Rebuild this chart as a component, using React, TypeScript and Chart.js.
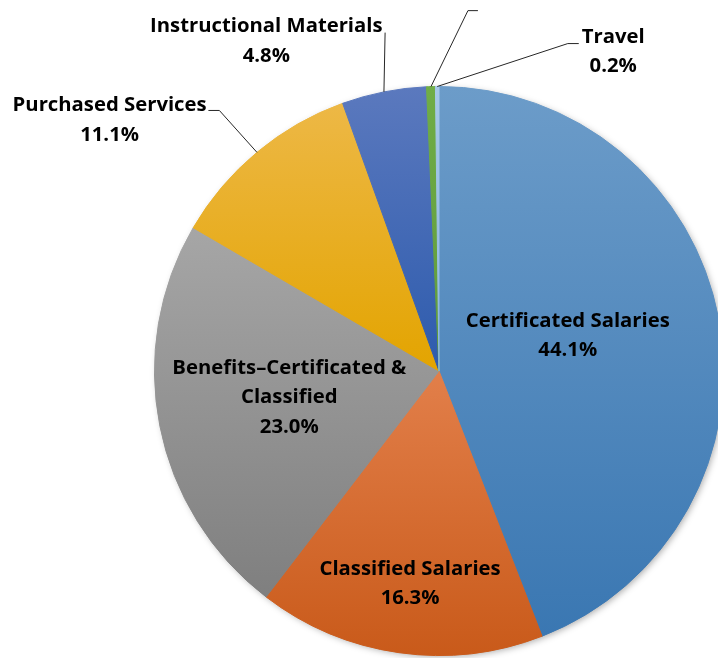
import React, { useEffect, useRef } from "react";
import { Chart, registerables } from "chart.js";

Chart.register(...registerables);

// ---- data ----
const categories = [
  "Certificated Salaries",
  "Classified Salaries",
  "Benefits–Certificated & Classified",
  "Purchased Services",
  "Instructional Materials",
  "Capital Outlay",
  "Travel",
];
const values = [44.1, 16.3, 23.0, 11.1, 4.8, 0.5, 0.2];
const valueLabels = ["44.1%", "16.3%", "23.0%", "11.1%", "4.8%", "0.5%", "0.2%"];
const labelLines = [
  ["Certificated Salaries"],
  ["Classified Salaries"],
  ["Benefits–Certificated &", "Classified"],
  ["Purchased Services"],
  ["Instructional Materials"],
  ["Capital Outlay"],
  ["Travel"],
];

// ---- styles ----
const topColors = ["#6c9cc9", "#e27f4a", "#a6a6a6", "#edb846", "#5b79be", "#70ad47", "#a6c8e8"];
const bottomColors = ["#3a77b2", "#c95a1a", "#7f7f7f", "#e3a400", "#2d5bad", "#5f9a3a", "#8db8e0"];

// label block centres as offsets from the pie centre, in units of a 285px radius
const REF_R = 285;
const labelOffsets: [number, number][] = [
  [129, -37],
  [-29, 211.5],
  [-150, 25],
  [-330, -252.5],
  [-173, -332],
  [91, -420],
  [174.5, -321.5],
];
// leader lines: [elbowDx, elbowDy, endDx] or null
const leaders: ([number, number, number] | null)[] = [
  null,
  null,
  null,
  [-220, -261, -231],
  [-54, -339, -54],
  [29, -361, 39],
  [129, -328, 140],
];

const FONT_SIZE = 20.3;
const LINE_H = 29.5;
const FONT = `bold ${FONT_SIZE}px 'Open Sans', 'Noto Sans', sans-serif`;

function arcYRange(x: number, y: number, r: number, a0: number, a1: number) {
  let ymin = y, ymax = y;
  const n = 90;
  for (let i = 0; i <= n; i++) {
    const a = a0 + ((a1 - a0) * i) / n;
    const yy = y + r * Math.sin(a);
    if (yy < ymin) ymin = yy;
    if (yy > ymax) ymax = yy;
  }
  return [ymin, ymax];
}

const shadowPlugin = {
  id: "pieShadow",
  beforeDatasetsDraw(chart: any) {
    const meta = chart.getDatasetMeta(0);
    const el = meta.data[0];
    if (!el) return;
    const { x, y, outerRadius } = el.getProps(["x", "y", "outerRadius"], true);
    const ctx = chart.ctx;
    ctx.save();
    ctx.shadowColor = "rgba(0,0,0,0.35)";
    ctx.shadowBlur = 7;
    ctx.shadowOffsetX = 2;
    ctx.shadowOffsetY = 2;
    ctx.fillStyle = "#888";
    ctx.beginPath();
    ctx.arc(x, y, outerRadius - 1, 0, Math.PI * 2);
    ctx.fill();
    ctx.restore();
  },
};

const gradientPlugin = {
  id: "sliceGradient",
  beforeDatasetsDraw(chart: any) {
    const meta = chart.getDatasetMeta(0);
    const ctx = chart.ctx;
    meta.data.forEach((el: any, i: number) => {
      const p = el.getProps(["x", "y", "startAngle", "endAngle", "outerRadius"], true);
      const [y0, y1] = arcYRange(p.x, p.y, p.outerRadius, p.startAngle, p.endAngle);
      const g = ctx.createLinearGradient(0, y0, 0, Math.max(y1, y0 + 1));
      g.addColorStop(0, topColors[i]);
      g.addColorStop(1, bottomColors[i]);
      el.options.backgroundColor = g;
      el.options.borderColor = g;
    });
  },
};

const labelPlugin = {
  id: "sliceLabels",
  afterDatasetsDraw(chart: any) {
    const meta = chart.getDatasetMeta(0);
    const ctx = chart.ctx;
    ctx.save();
    meta.data.forEach((el: any, i: number) => {
      const p = el.getProps(["x", "y", "startAngle", "endAngle", "outerRadius"], true);
      const k = p.outerRadius / REF_R;
      const lines = [...labelLines[i], valueLabels[i]];
      const cx = p.x + labelOffsets[i][0] * k;
      const cy = p.y + labelOffsets[i][1] * k;
      const ld = leaders[i];
      if (ld) {
        const mid = (p.startAngle + p.endAngle) / 2;
        const ex = p.x + Math.cos(mid) * p.outerRadius;
        const ey = p.y + Math.sin(mid) * p.outerRadius;
        ctx.strokeStyle = "#262626";
        ctx.lineWidth = 1;
        ctx.beginPath();
        ctx.moveTo(ex, ey);
        ctx.lineTo(p.x + ld[0] * k, p.y + ld[1] * k);
        ctx.lineTo(p.x + ld[2] * k, p.y + ld[1] * k);
        ctx.stroke();
      }
      ctx.font = FONT;
      ctx.fillStyle = "#000";
      ctx.textAlign = "center";
      ctx.textBaseline = "alphabetic";
      const startY = cy - ((lines.length - 1) * LINE_H) / 2;
      lines.forEach((t, j) => {
        ctx.fillText(t, cx, startY + j * LINE_H + FONT_SIZE * 0.357);
      });
    });
    ctx.restore();
  },
};

export default function App() {
  const ref = useRef<HTMLCanvasElement | null>(null);
  useEffect(() => {
    if (!ref.current) return;
    const chart = new Chart(ref.current, {
      type: "pie",
      data: {
        labels: categories,
        datasets: [
          {
            data: values,
            backgroundColor: topColors,
            borderColor: topColors,
            borderWidth: 1,
          },
        ],
      },
      options: {
        responsive: false,
        animation: false,
        layout: { padding: { left: 154, right: 6, top: 86, bottom: 2 } },
        plugins: { legend: { display: false }, tooltip: { enabled: false } },
      },
      plugins: [shadowPlugin, gradientPlugin, labelPlugin],
    } as any);
    return () => chart.destroy();
  }, []);
  return (
    <div
      style={{
        position: "fixed",
        left: 0,
        top: 0,
        width: 718,
        height: 658,
        overflow: "hidden",
        background: "#fff",
      }}
    >
      <canvas ref={ref} width={730} height={658} style={{ display: "block" }} />
    </div>
  );
}
